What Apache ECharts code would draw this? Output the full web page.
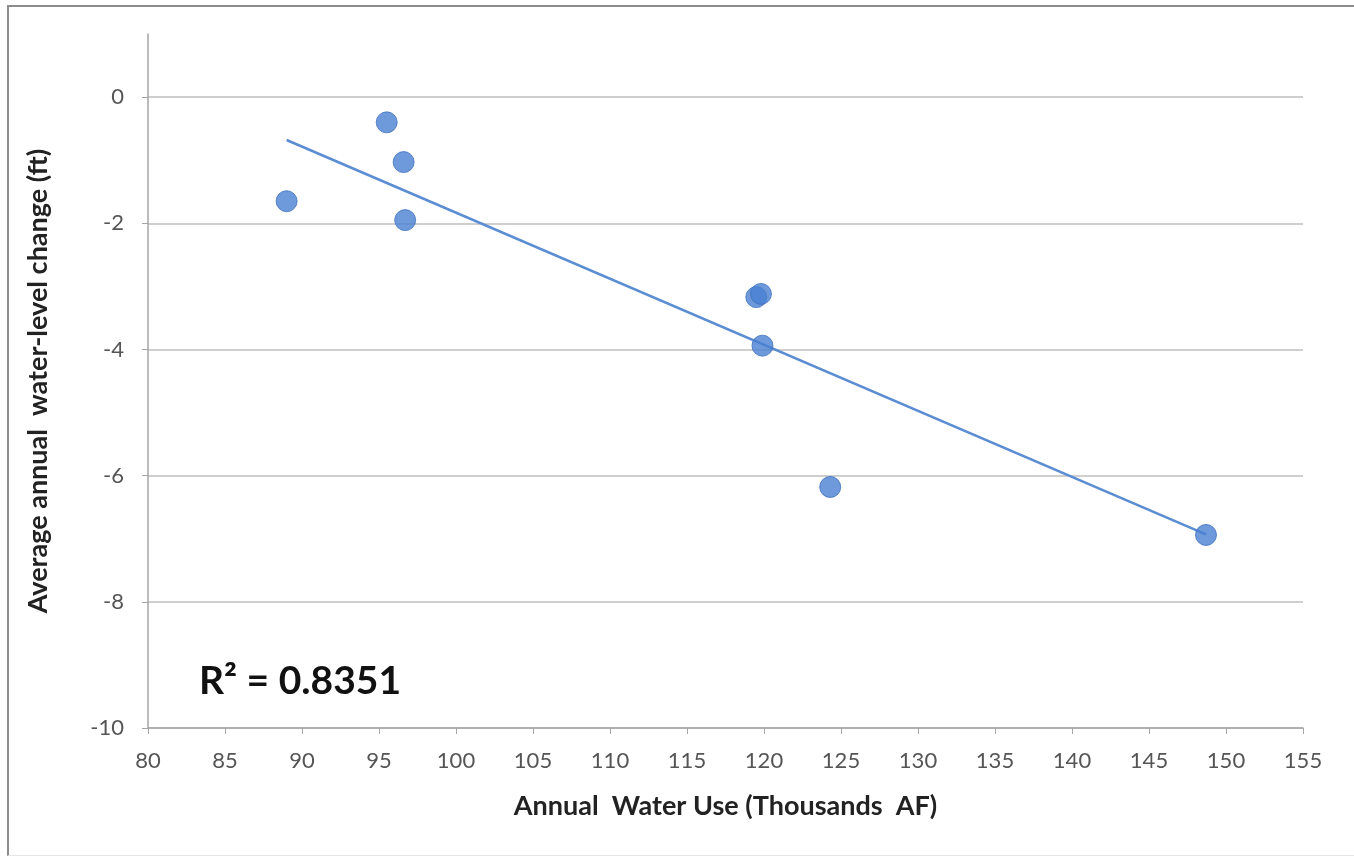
<!DOCTYPE html>
<html>
<head>
<meta charset="utf-8">
<script src="https://cdn.jsdelivr.net/npm/echarts@6/dist/echarts.min.js"></script>
<style>
  html, body { margin: 0; padding: 0; background: #fff; }
  #frame { position: absolute; left: 7px; top: 5px; width: 1360px; height: 848px;
           border-left: 2px solid #8c8c8c; border-top: 2px solid #8c8c8c; border-bottom: 1px solid #e6e6e6; }
  #main { width: 1354px; height: 856px; position: absolute; left: 0; top: 0; }
</style>
</head>
<body>
<div id="frame"></div>
<div id="main"></div>
<script>
// annual water use (thousand AF) vs average annual water-level change (ft)
var waterUse = [89.0, 95.5, 96.6, 96.7, 119.5, 119.8, 119.9, 124.3, 148.7];
var levelChange = [-1.65, -0.40, -1.03, -1.95, -3.17, -3.12, -3.94, -6.18, -6.94];

// linear trend line end points
var trendX = [89.0, 148.7];
var trendY = [-0.68, -6.93];

var rSquared = 'R² = 0.8351';

var font = 'Lato, "Open Sans", sans-serif';

var chart = echarts.init(document.getElementById('main'));

var points = waterUse.map(function (x, i) { return [x, levelChange[i]]; });
var trend = trendX.map(function (x, i) { return [x, trendY[i]]; });

chart.setOption({
    backgroundColor: 'transparent',
    animation: false,
    title: {
        text: rSquared,
        left: 194,
        top: 657,
        textStyle: { fontFamily: font, fontSize: 39, fontWeight: 'bold', color: '#111' }
    },
    grid: { left: 148, right: 51, top: 34, bottom: 128 },
    xAxis: {
        type: 'value',
        min: 80,
        max: 155,
        interval: 5,
        name: 'Annual  Water Use (Thousands  AF)',
        nameLocation: 'middle',
        nameGap: 65,
        nameTextStyle: { fontFamily: font, fontSize: 27, fontWeight: 'bold', color: '#222' },
        axisLine: { onZero: false, lineStyle: { color: '#a6a6a6', width: 1.5 } },
        axisTick: { show: true, length: 6, lineStyle: { color: '#a6a6a6' } },
        axisLabel: { margin: 22, fontFamily: font, fontSize: 22, color: '#555' },
        splitLine: { show: false }
    },
    yAxis: {
        type: 'value',
        min: -10,
        max: 1,
        interval: 2,
        name: 'Average annual  water-level change (ft)',
        nameLocation: 'middle',
        nameGap: 96,
        nameTextStyle: { fontFamily: font, fontSize: 27, fontWeight: 'bold', color: '#222' },
        axisLine: { show: true, lineStyle: { color: '#a6a6a6', width: 1.5 } },
        axisTick: { show: true, length: 6, lineStyle: { color: '#a6a6a6' } },
        axisLabel: {
            margin: 24, fontFamily: font, fontSize: 22, color: '#555',
            showMaxLabel: false
        },
        splitLine: { show: true, showMaxLine: false, lineStyle: { color: '#bfbfbf', width: 1.5 } }
    },
    series: [
        {
            name: 'trend',
            type: 'line',
            data: trend,
            symbol: 'none',
            lineStyle: { color: '#5b8dd3', width: 2.5 },
            z: 2
        },
        {
            name: 'obs',
            type: 'scatter',
            data: points,
            symbolSize: 21,
            itemStyle: { color: '#4a80d2', borderColor: '#3f70bd', borderWidth: 1 },
            z: 3
        }
    ]
});
</script>
</body>
</html>
